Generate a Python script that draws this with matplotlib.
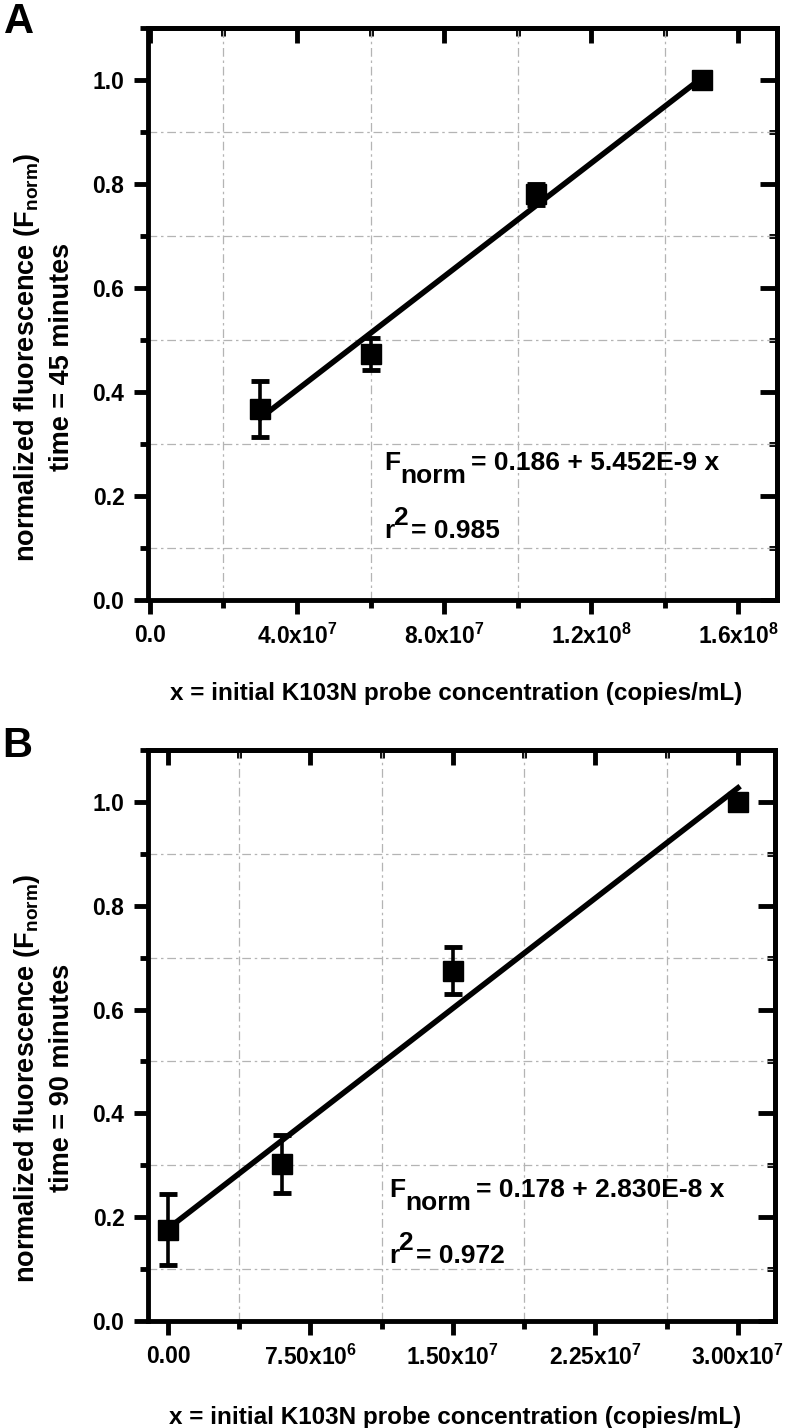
import matplotlib
matplotlib.use('Agg')
import matplotlib.pyplot as plt
from matplotlib.ticker import MultipleLocator

# police : Arial gras (Liberation Sans) partout
plt.rcParams['font.family'] = ['Liberation Sans', 'DejaVu Sans']
plt.rcParams['font.weight'] = 'bold'
plt.rcParams['axes.labelweight'] = 'bold'
plt.rcParams['mathtext.fontset'] = 'custom'
plt.rcParams['mathtext.rm'] = 'Liberation Sans:bold'
plt.rcParams['mathtext.it'] = 'Liberation Sans:bold'
plt.rcParams['mathtext.bf'] = 'Liberation Sans:bold'

# panel A : 45 minutes
conc_a = [3.0e7, 6.0e7, 1.05e8, 1.5e8]
fnorm_a = [0.368, 0.473, 0.780, 1.000]
err_a = [0.054, 0.030, 0.020, 0.006]
intercept_a, slope_a = 0.186, 5.452e-9
eq_a = '= 0.186 + 5.452E-9 x'
r2_a = '= 0.985'
xticks_a = [0, 4e7, 8e7, 1.2e8, 1.6e8]
xticklabels_a = ['0.0', '4.0x10$^{7}$', '8.0x10$^{7}$', '1.2x10$^{8}$', '1.6x10$^{8}$']

# panel B : 90 minutes
conc_b = [0.0, 6.0e6, 1.5e7, 3.0e7]
fnorm_b = [0.176, 0.302, 0.675, 1.000]
err_b = [0.068, 0.056, 0.045, 0.006]
intercept_b, slope_b = 0.178, 2.830e-8
eq_b = '= 0.178 + 2.830E-8 x'
r2_b = '= 0.972'
xticks_b = [0, 7.5e6, 1.5e7, 2.25e7, 3.0e7]
xticklabels_b = ['0.00', '7.50x10$^{6}$', '1.50x10$^{7}$', '2.25x10$^{7}$', '3.00x10$^{7}$']

yticks = [0.0, 0.2, 0.4, 0.6, 0.8, 1.0]
yticklabels = ['0.0', '0.2', '0.4', '0.6', '0.8', '1.0']

W, H = 788, 1428
LW = 3.5  # epaisseur des axes et des ticks
FS_EQ = 19


def equation(ax, x0, y0, y1, eq, r2):
    # F avec l'indice "norm" en pleine taille, comme dans Origin
    t1 = ax.text(x0, y0, 'F', transform=ax.transAxes, fontsize=FS_EQ, va='baseline')
    t2 = ax.annotate('norm', xy=(1, 0), xycoords=t1, xytext=(0.5, -6),
                     textcoords='offset points', fontsize=FS_EQ, va='baseline')
    ax.annotate(eq, xy=(1, 0), xycoords=(t2, t1), xytext=(3, 0),
                textcoords='offset points', fontsize=FS_EQ, va='bottom')
    t4 = ax.text(x0, y1, 'r', transform=ax.transAxes, fontsize=FS_EQ, va='baseline')
    t5 = ax.annotate('2', xy=(1, 0), xycoords=t4, xytext=(-0.5, 13),
                     textcoords='offset points', fontsize=FS_EQ, va='baseline')
    ax.annotate(r2, xy=(1, 0), xycoords=(t5, t4), xytext=(2, 0),
                textcoords='offset points', fontsize=FS_EQ, va='bottom')


def panel(ax, x, y, err, b0, b1, xt, xtl, xlim, minutes, eq, r2, eq_pos, label_y):
    ax.set_xlim(xlim)
    ax.set_ylim(0, 1.1)

    # grille seulement aux ticks mineurs
    ax.set_xticks(xt)
    ax.set_xticklabels(xtl)
    ax.set_yticks(yticks)
    ax.set_yticklabels(yticklabels)
    ax.xaxis.set_minor_locator(MultipleLocator(xt[1] / 2))
    ax.yaxis.set_minor_locator(MultipleLocator(0.1))
    ax.grid(which='minor', color='#b4b4b4', linewidth=0.9, linestyle=(0, (7, 3, 2, 3)))
    ax.grid(which='major', visible=False)
    ax.set_axisbelow(True)

    ax.tick_params(which='major', direction='out', length=10, width=LW, labelsize=16.5, pad=7)
    ax.tick_params(which='minor', direction='out', length=6, width=LW)
    for s in ax.spines.values():
        s.set_linewidth(LW)

    # ticks vers l'interieur en haut et a droite
    top = ax.secondary_xaxis('top')
    top.set_xticks(xt)
    top.xaxis.set_minor_locator(MultipleLocator(xt[1] / 2))
    top.tick_params(which='major', direction='in', length=11, width=LW, labeltop=False)
    top.tick_params(which='minor', direction='in', length=6, width=LW)
    top.spines['top'].set_linewidth(LW)
    right = ax.secondary_yaxis('right')
    right.set_yticks(yticks)
    right.yaxis.set_minor_locator(MultipleLocator(0.1))
    right.tick_params(which='major', direction='in', length=12, width=LW, labelright=False)
    right.tick_params(which='minor', direction='in', length=6, width=LW)
    right.spines['right'].set_linewidth(LW)

    # points + barres d'erreur
    ax.errorbar(x, y, yerr=err, fmt='s', ms=14, color='black', ecolor='black',
                elinewidth=2.6, capsize=6.5, capthick=3.5, zorder=3)
    # droite de regression (equation du graphe)
    fx = [x[0], x[-1]]
    ax.plot(fx, [b0 + b1 * fx[0], b0 + b1 * fx[1]], color='black', linewidth=4, zorder=4)

    equation(ax, eq_pos[0], eq_pos[1], eq_pos[2], eq, r2)

    ax.set_xlabel('x = initial K103N probe concentration (copies/mL)', fontsize=17.5,
                  fontweight='bold')
    ax.xaxis.set_label_coords(0.49, label_y)
    ax.set_ylabel('normalized fluorescence (F$_{norm}$)\ntime = %d minutes' % minutes,
                  fontsize=19.5, linespacing=1.35, fontweight='bold')
    ax.yaxis.set_label_coords(-0.116, 0.425)


fig = plt.figure(figsize=(W / 100, H / 100), dpi=100)
axA = fig.add_axes([148 / W, 1 - 600 / H, (777 - 148) / W, 572 / H])
axB = fig.add_axes([148 / W, 1 - 1321 / H, (775 - 148) / W, 571 / H])

panel(axA, conc_a, fnorm_a, err_a, intercept_a, slope_a, xticks_a, xticklabels_a,
      (-5e5, 1.705e8), 45, eq_a, r2_a, (0.375, 0.227, 0.108), -0.143)
panel(axB, conc_b, fnorm_b, err_b, intercept_b, slope_b, xticks_b, xticklabels_b,
      (-1.05e6, 3.195e7), 90, eq_b, r2_b, (0.384, 0.217, 0.102), -0.148)

fig.text(4 / W, 1 - 2 / H, 'A', fontsize=30, va='top', ha='left')
fig.text(2 / W, 1 - 726 / H, 'B', fontsize=30, va='top', ha='left')

fig.savefig('out.png', dpi=100)
